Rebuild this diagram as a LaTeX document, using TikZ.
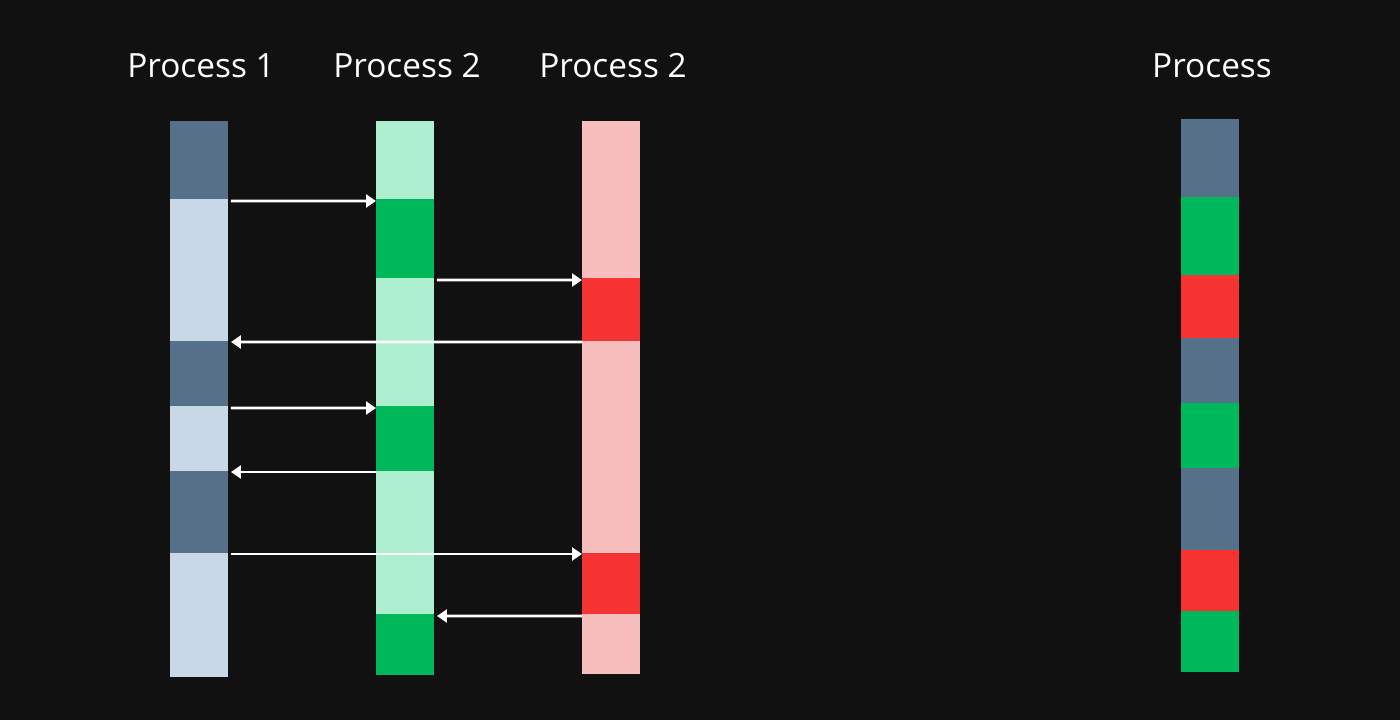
\documentclass[tikz,border=0pt]{standalone}
\usepackage{fontspec}
\setmainfont{Open Sans}
\usetikzlibrary{arrows.meta}
\definecolor{bg}{HTML}{111111}
\definecolor{slate}{HTML}{57708A}
\definecolor{pale}{HTML}{C9D8E7}
\definecolor{mint}{HTML}{AEEFCF}
\definecolor{grn}{HTML}{00B85C}
\definecolor{pink}{HTML}{F8BDBD}
\definecolor{rd}{HTML}{F63333}

\begin{document}
\begin{tikzpicture}
    [x=0.02cm,y=-0.02cm,
     seg/.style={rectangle, draw=none, inner sep=0pt, outer sep=0pt, minimum width=1.16cm},
     title/.style={text=white, font=\fontsize{19}{22}\selectfont},
     flow/.style={draw=white, line width=1.6pt, -{Triangle[length=0.2cm, width=0.26cm]}}]
  \fill[bg] (0,0) rectangle (1400,720);
  \useasboundingbox (0,0) rectangle (1400,720);

  \node[title] (t1) at (201,66) {Process 1};
  \node[title] (t2) at (407,66) {Process 2};
  \node[title] (t3) at (613,66) {Process 2};
  \node[title] (t4) at (1212,66) {Process};

  % columns
  \foreach \n/\t/\b/\c in {1/121/199/slate, 2/199/341/pale, 3/341/406/slate, 4/406/471/pale, 5/471/553/slate, 6/553/677/pale}
    \node[seg, fill=\c, minimum height={(\b-\t)*0.02cm}] (a\n) at (199,{(\t+\b)/2}) {};
  \foreach \n/\t/\b/\c in {1/121/199/mint, 2/199/278/grn, 3/278/406/mint, 4/406/471/grn, 5/471/614/mint, 6/614/675/grn}
    \node[seg, fill=\c, minimum height={(\b-\t)*0.02cm}] (b\n) at (405,{(\t+\b)/2}) {};
  \foreach \n/\t/\b/\c in {1/121/278/pink, 2/278/341/rd, 3/341/553/pink, 4/553/614/rd, 5/614/674/pink}
    \node[seg, fill=\c, minimum height={(\b-\t)*0.02cm}] (c\n) at (611,{(\t+\b)/2}) {};
  \foreach \n/\t/\b/\c in {1/119/197/slate, 2/197/275/grn, 3/275/338/rd, 4/338/403/slate, 5/403/468/grn, 6/468/550/slate, 7/550/611/rd, 8/611/672/grn}
    \node[seg, fill=\c, minimum height={(\b-\t)*0.02cm}] (d\n) at (1210,{(\t+\b)/2}) {};

  % messages
  \draw[flow] ([shift={(3,2)}]a1.south east) -- ([yshift=-0.04cm]b1.south west);
  \draw[flow] ([shift={(3,2)}]b2.south east) -- ([yshift=-0.04cm]c1.south west);
  \draw[flow] ([yshift=-0.02cm]c2.south west) -- ([shift={(3,1)}]a2.south east);
  \draw[flow] ([shift={(3,2)}]a3.south east) -- ([yshift=-0.04cm]b3.south west);
  \draw[flow] ([yshift=-0.02cm]b4.south west) -- ([shift={(3,1)}]a4.south east);
  \draw[flow] ([shift={(3,1)}]a5.south east) -- ([yshift=-0.02cm]c3.south west);
  \draw[flow] ([yshift=-0.04cm]c4.south west) -- ([shift={(3,2)}]b5.south east);
\end{tikzpicture}
\end{document}
